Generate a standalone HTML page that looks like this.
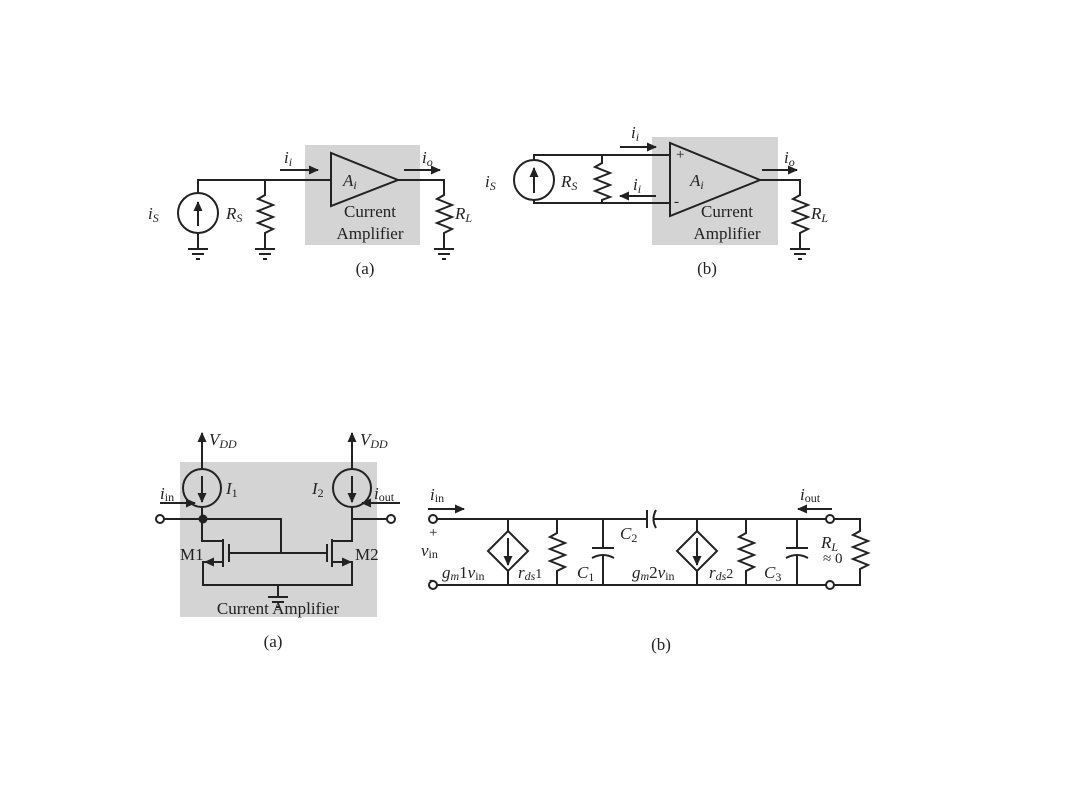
<!DOCTYPE html>
<html><head><meta charset="utf-8"><style>
html,body{margin:0;padding:0;background:#fff;width:1080px;height:810px;overflow:hidden}
svg text{font-family:"Liberation Serif",serif;fill:#222}
</style></head><body>
<svg width="1080" height="810" viewBox="0 0 1080 810" xmlns="http://www.w3.org/2000/svg">
<defs>
<marker id="ah" markerWidth="10" markerHeight="10" refX="9" refY="5" orient="auto" markerUnits="userSpaceOnUse"><path d="M0,0.5 L10,5 L0,9.5z" fill="#222"/></marker>
<g id="gnd"><line x1="-10" y1="0" x2="10" y2="0"/><line x1="-6" y1="5" x2="6" y2="5"/><line x1="-2" y1="10" x2="2" y2="10"/></g>
</defs>
<g stroke="#222" stroke-width="2" fill="none">
<!-- TOP (a) -->
<rect x="305" y="145" width="115" height="100" fill="#d4d4d4" stroke="none"/>
<polyline points="198,193 198,180 331,180"/>
<polygon points="331,153 331,206 398,180" fill="#d4d4d4"/>
<circle cx="198" cy="213" r="20"/>
<line x1="198" y1="233" x2="198" y2="248"/>
<use href="#gnd" x="198" y="249"/>
<polyline points="265,180 265,195 258,199 273,205 258,211 273,217 258,223 273,229 265,233 265,249"/>
<use href="#gnd" x="265" y="249"/>
<polyline points="398,180 444,180 444,195 437,199 452,205 437,211 452,217 437,223 452,229 444,233 444,249"/>
<use href="#gnd" x="444" y="249"/>
<line x1="280" y1="170" x2="318" y2="170" marker-end="url(#ah)"/>
<line x1="404" y1="170" x2="440" y2="170" marker-end="url(#ah)"/>
<line x1="198" y1="226" x2="198" y2="202" marker-end="url(#ah)"/>
<!-- TOP (b) -->
<rect x="652" y="137" width="126" height="108" fill="#d4d4d4" stroke="none"/>
<polyline points="534,160 534,155 670,155"/>
<polyline points="534,200 534,203 670,203"/>
<circle cx="534" cy="180" r="20"/>
<line x1="534" y1="193" x2="534" y2="168" marker-end="url(#ah)"/>
<polyline points="602,155 602,163 595,167 610,173 595,179 610,185 595,191 610,197 602,200 602,203"/>
<polygon points="670,143 670,216 760,180" fill="#d4d4d4"/>
<polyline points="760,180 800,180 800,195 793,199 808,205 793,211 808,217 793,223 808,229 800,233 800,249"/>
<use href="#gnd" x="800" y="249"/>
<line x1="620" y1="147" x2="656" y2="147" marker-end="url(#ah)"/>
<line x1="656" y1="196" x2="620" y2="196" marker-end="url(#ah)"/>
<line x1="762" y1="170" x2="797" y2="170" marker-end="url(#ah)"/>
<!-- BOTTOM (a) -->
<rect x="180" y="462" width="197" height="155" fill="#d4d4d4" stroke="none"/>
<line x1="202" y1="469" x2="202" y2="433" marker-end="url(#ah)"/>
<line x1="352" y1="469" x2="352" y2="433" marker-end="url(#ah)"/>
<circle cx="202" cy="488" r="19"/>
<circle cx="352" cy="488" r="19"/>
<line x1="202" y1="476" x2="202" y2="502" marker-end="url(#ah)"/>
<line x1="352" y1="476" x2="352" y2="502" marker-end="url(#ah)"/>
<polyline points="164,519 281,519 281,553"/>
<circle cx="203" cy="519" r="3.5" fill="#222"/>
<polyline points="202,507 202,541 223,541"/>
<line x1="223" y1="539" x2="223" y2="567"/>
<line x1="229" y1="544" x2="229" y2="562"/>
<line x1="229" y1="553" x2="327" y2="553"/>
<line x1="327" y1="544" x2="327" y2="562"/>
<line x1="332" y1="539" x2="332" y2="567"/>
<polyline points="223,562 203,562 203,585 352,585 352,562 332,562"/>
<line x1="222" y1="562" x2="205" y2="562" marker-end="url(#ah)"/>
<line x1="333" y1="562" x2="351" y2="562" marker-end="url(#ah)"/>
<polyline points="352,507 352,541 332,541"/>
<polyline points="352,519 387,519"/>
<line x1="278" y1="585" x2="278" y2="597"/>
<use href="#gnd" x="278" y="597"/>
<circle cx="160" cy="519" r="4" fill="#fff"/>
<circle cx="391" cy="519" r="4" fill="#fff"/>
<line x1="160" y1="503" x2="195" y2="503" marker-end="url(#ah)"/>
<line x1="400" y1="503" x2="362" y2="503" marker-end="url(#ah)"/>
<!-- BOTTOM (b) -->
<polyline points="437,519 647,519"/>
<polyline points="653,519 826,519"/>
<line x1="647" y1="510" x2="647" y2="528"/>
<path d="M656,510 Q651,519 656,528"/>
<polyline points="834,519 860,519 860,531 853,535 868,541 853,547 868,553 853,559 868,565 860,569 860,585 834,585"/>
<line x1="437" y1="585" x2="826" y2="585"/>
<circle cx="433" cy="519" r="4" fill="#fff"/>
<circle cx="433" cy="585" r="4" fill="#fff"/>
<circle cx="830" cy="519" r="4" fill="#fff"/>
<circle cx="830" cy="585" r="4" fill="#fff"/>
<polyline points="508,519 508,531"/><polyline points="508,571 508,585"/>
<polygon points="508,531 528,551 508,571 488,551"/>
<line x1="508" y1="538" x2="508" y2="565" marker-end="url(#ah)"/>
<polyline points="697,519 697,531"/><polyline points="697,571 697,585"/>
<polygon points="697,531 717,551 697,571 677,551"/>
<line x1="697" y1="538" x2="697" y2="565" marker-end="url(#ah)"/>
<polyline points="557,519 557,533 550,537 565,543 550,549 565,555 550,561 565,567 557,571 557,585"/>
<polyline points="746,519 746,533 739,537 754,543 739,549 754,555 739,561 754,567 746,571 746,585"/>
<polyline points="603,519 603,548"/><line x1="592" y1="548" x2="614" y2="548"/><path d="M592,558 Q603,552 614,558"/><line x1="603" y1="555" x2="603" y2="585"/>
<polyline points="797,519 797,548"/><line x1="786" y1="548" x2="808" y2="548"/><path d="M786,558 Q797,552 808,558"/><line x1="797" y1="555" x2="797" y2="585"/>
<line x1="428" y1="509" x2="464" y2="509" marker-end="url(#ah)"/>
<line x1="832" y1="509" x2="798" y2="509" marker-end="url(#ah)"/>
</g>
<g font-size="17" font-style="italic">
<text x="284" y="163">i<tspan font-size="12" dy="3">i</tspan></text>
<text x="422" y="163">i<tspan font-size="12" dy="3">o</tspan></text>
<text x="343" y="186">A<tspan font-size="12" dy="3">i</tspan></text>
<text x="148" y="219">i<tspan font-size="12" dy="3">S</tspan></text>
<text x="226" y="219">R<tspan font-size="12" dy="3">S</tspan></text>
<text x="455" y="219">R<tspan font-size="12" dy="3">L</tspan></text>
<text x="631" y="138">i<tspan font-size="12" dy="3">i</tspan></text>
<text x="633" y="190">i<tspan font-size="12" dy="3">i</tspan></text>
<text x="784" y="163">i<tspan font-size="12" dy="3">o</tspan></text>
<text x="690" y="186">A<tspan font-size="12" dy="3">i</tspan></text>
<text x="485" y="187">i<tspan font-size="12" dy="3">S</tspan></text>
<text x="561" y="187">R<tspan font-size="12" dy="3">S</tspan></text>
<text x="811" y="219">R<tspan font-size="12" dy="3">L</tspan></text>
<text x="209" y="445">V<tspan font-size="12" dy="3">DD</tspan></text>
<text x="360" y="445">V<tspan font-size="12" dy="3">DD</tspan></text>
<text x="226" y="494">I<tspan font-size="12" dy="3" font-style="normal">1</tspan></text>
<text x="312" y="494">I<tspan font-size="12" dy="3" font-style="normal">2</tspan></text>
<text x="160" y="499">i<tspan font-size="12" dy="2" font-style="normal">in</tspan></text>
<text x="374" y="499">i<tspan font-size="12" dy="2" font-style="normal">out</tspan></text>
<text x="430" y="500">i<tspan font-size="12" dy="2" font-style="normal">in</tspan></text>
<text x="800" y="500">i<tspan font-size="12" dy="2" font-style="normal">out</tspan></text>
<text x="421" y="556">v<tspan font-size="12" dy="2" font-style="normal">in</tspan></text>
<text x="442" y="578">g<tspan font-size="12" dy="2">m</tspan><tspan font-style="normal" dy="-2">1</tspan>v<tspan font-size="12" dy="2" font-style="normal">in</tspan></text>
<text x="518" y="578">r<tspan font-size="12" dy="2">ds</tspan><tspan font-size="14" font-style="normal" dy="-2">1</tspan></text>
<text x="577" y="578">C<tspan font-size="12" dy="3" font-style="normal">1</tspan></text>
<text x="620" y="539">C<tspan font-size="12" dy="3" font-style="normal">2</tspan></text>
<text x="632" y="578">g<tspan font-size="12" dy="2">m</tspan><tspan font-style="normal" dy="-2">2</tspan>v<tspan font-size="12" dy="2" font-style="normal">in</tspan></text>
<text x="709" y="578">r<tspan font-size="12" dy="2">ds</tspan><tspan font-size="14" font-style="normal" dy="-2">2</tspan></text>
<text x="764" y="578">C<tspan font-size="12" dy="3" font-style="normal">3</tspan></text>
<text x="821" y="548">R<tspan font-size="12" dy="3">L</tspan></text>
</g>
<g font-size="17">
<text x="370" y="217" text-anchor="middle">Current</text>
<text x="370" y="239" text-anchor="middle">Amplifier</text>
<text x="365" y="274" text-anchor="middle">(a)</text>
<text x="727" y="217" text-anchor="middle">Current</text>
<text x="727" y="239" text-anchor="middle">Amplifier</text>
<text x="707" y="274" text-anchor="middle">(b)</text>
<text x="676" y="159" font-size="15">+</text>
<text x="674" y="206" font-size="15">-</text>
<text x="180" y="560">M1</text>
<text x="355" y="560">M2</text>
<text x="278" y="614" text-anchor="middle">Current Amplifier</text>
<text x="273" y="647" text-anchor="middle">(a)</text>
<text x="661" y="650" text-anchor="middle">(b)</text>
<text x="429" y="537" font-size="15">+</text>
<text x="429" y="584" font-size="15">-</text>
<text x="823" y="563" font-size="15">≈ 0</text>
</g>
</svg>
</body></html>
